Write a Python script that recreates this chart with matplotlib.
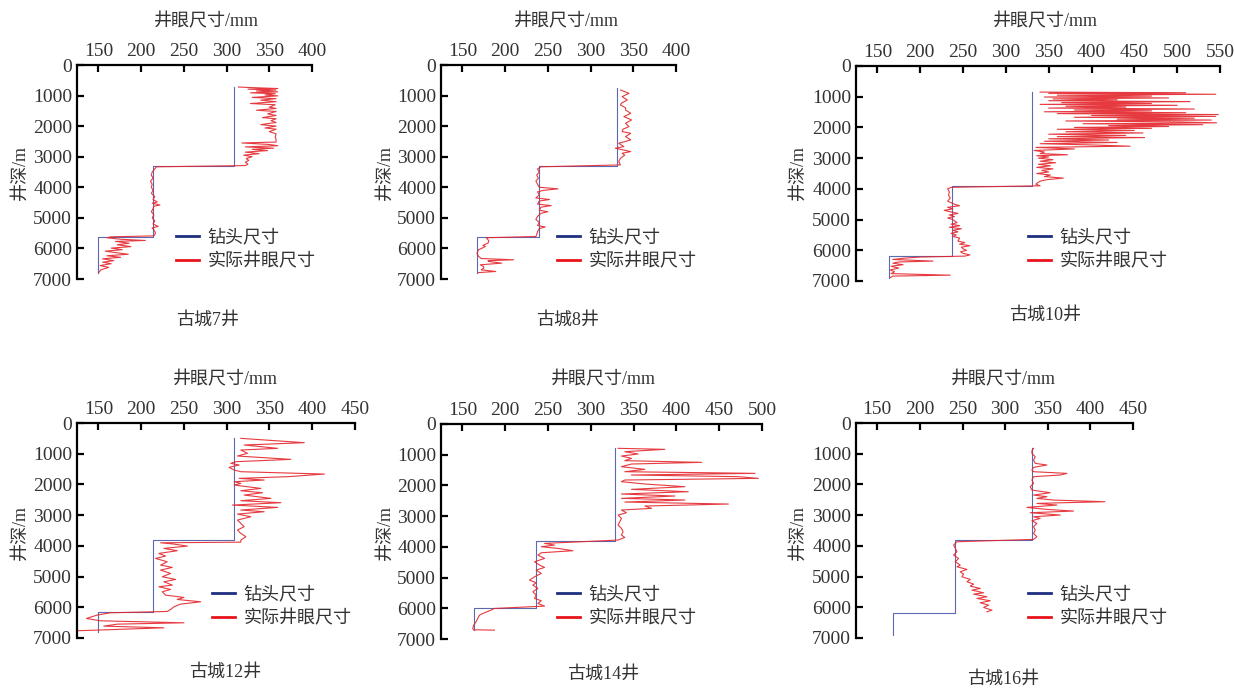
import matplotlib
matplotlib.use('Agg')
import numpy as np
import matplotlib.pyplot as plt
from matplotlib.lines import Line2D

plt.rcParams['font.family'] = ['Liberation Serif', 'Noto Sans CJK SC']

# ---- data: bit size steps and caliper logs ----
wells = ['古城7井', '古城8井', '古城10井', '古城12井', '古城14井', '古城16井']
x_max = [400, 400, 550, 450, 500, 450]

# bit size (mm) per section, and section boundary depths (m)
gc7_bit_size = [309, 214, 149.6]
gc7_bit_depth = [720, 3300, 5620, 6800]
gc8_bit_size = [331, 240, 167]
gc8_bit_depth = [750, 3300, 5630, 6800]
gc10_bit_size = [330, 237, 164]
gc10_bit_depth = [840, 3920, 6200, 6900]
gc12_bit_size = [308.7, 214, 149.6]
gc12_bit_depth = [500, 3820, 6140, 6790]
gc14_bit_size = [328.7, 236.2, 163.2]
gc14_bit_depth = [770, 3800, 5990, 6720]
gc16_bit_size = [331.4, 240.7, 168.4]
gc16_bit_depth = [810, 3812, 6190, 6890]

# caliper (depth m, hole size mm)
gc7_caliper = [
    (720, 314), (740, 330), (770, 360), (790, 325), (820, 358), (850, 335), (880, 360),
    (910, 328), (940, 357), (980, 345), (1010, 360), (1060, 330), (1100, 358), (1150, 340),
    (1200, 358), (1260, 328), (1300, 357), (1380, 350), (1420, 358), (1480, 335), (1520, 358),
    (1600, 348), (1650, 358), (1720, 342), (1760, 358), (1820, 352), (1880, 358), (1950, 340),
    (2000, 358), (2060, 345), (2100, 358), (2180, 350), (2250, 358), (2350, 357), (2450, 358),
    (2520, 358), (2550, 318), (2600, 350), (2640, 360), (2680, 322), (2720, 355), (2760, 330),
    (2800, 348), (2850, 322), (2900, 338), (2950, 320), (3000, 330), (3060, 323), (3120, 326),
    (3180, 322), (3240, 325), (3290, 322),
    (3330, 218), (3400, 216), (3500, 213), (3600, 212), (3700, 214), (3800, 211), (3900, 213),
    (4000, 212), (4100, 214), (4200, 212), (4300, 216), (4400, 214), (4480, 219), (4520, 213),
    (4580, 222), (4620, 215), (4700, 214), (4800, 212), (4900, 215), (5000, 213), (5100, 216),
    (5200, 214), (5280, 220), (5330, 213), (5400, 215), (5500, 217), (5590, 215),
    (5620, 165), (5650, 160), (5700, 176), (5740, 205), (5770, 170), (5830, 186), (5880, 172),
    (5940, 188), (5990, 165), (6040, 178), (6090, 158), (6140, 171), (6190, 185), (6240, 160),
    (6290, 176), (6340, 155), (6400, 168), (6450, 155), (6500, 165), (6560, 152), (6620, 162),
    (6700, 153), (6800, 150),
]
gc8_caliper = [
    (817, 335), (926, 345), (1035, 337), (1144, 343), (1250, 336), (1307, 335), (1400, 341),
    (1471, 341), (1580, 347), (1688, 339), (1797, 348), (1906, 341), (2015, 345), (2100, 338),
    (2179, 337), (2233, 347), (2342, 341), (2451, 347), (2560, 333), (2669, 339), (2723, 329),
    (2832, 347), (2887, 337), (2950, 340), (3050, 335), (3159, 333), (3268, 335),
    (3330, 242), (3400, 238), (3500, 240), (3600, 237), (3700, 239), (3800, 236), (3900, 238),
    (4000, 240), (4050, 262), (4100, 245), (4150, 238), (4250, 240), (4350, 236), (4400, 252),
    (4450, 240), (4550, 238), (4600, 254), (4650, 242), (4750, 240), (4800, 250), (4850, 242),
    (4950, 238), (5050, 236), (5150, 240), (5250, 238), (5300, 247), (5350, 240), (5450, 238),
    (5550, 237), (5610, 236),
    (5650, 178), (5750, 181), (5827, 180), (5900, 174), (5936, 177), (6045, 169), (6154, 167),
    (6263, 169), (6330, 172), (6372, 210), (6400, 180), (6427, 181), (6481, 196), (6536, 171),
    (6600, 175), (6645, 175), (6700, 172), (6754, 189), (6790, 169),
]
gc10_caliper = [
    (850, 340), (870, 510), (890, 350), (920, 545), (950, 360), (980, 470), (1010, 345),
    (1040, 490), (1070, 355), (1100, 430), (1130, 350), (1160, 515), (1190, 365), (1220, 470),
    (1250, 340), (1280, 500), (1310, 370), (1340, 440), (1370, 350), (1400, 520), (1430, 380),
    (1460, 470), (1490, 345), (1520, 510), (1550, 360), (1580, 548), (1610, 400), (1640, 545),
    (1670, 380), (1700, 520), (1730, 430), (1760, 540), (1790, 370), (1820, 500), (1850, 546),
    (1880, 390), (1910, 530), (1940, 420), (1970, 490), (2000, 380), (2030, 470), (2060, 360),
    (2100, 450), (2140, 370), (2180, 460), (2220, 350), (2260, 440), (2300, 360), (2330, 462),
    (2370, 350), (2410, 420), (2450, 345), (2490, 430), (2530, 340), (2570, 400), (2610, 445),
    (2650, 335), (2700, 380), (2750, 333), (2800, 345), (2850, 340), (2890, 372), (2920, 336),
    (2960, 350), (3000, 338), (3050, 355), (3100, 340), (3150, 358), (3200, 338), (3250, 352),
    (3300, 336), (3350, 355), (3400, 342), (3450, 350), (3500, 336), (3550, 352), (3600, 345),
    (3650, 367), (3700, 348), (3750, 340), (3800, 337), (3850, 335), (3900, 340),
    (3950, 236), (4000, 232), (4100, 234), (4200, 233), (4300, 235), (4400, 232), (4500, 240),
    (4550, 246), (4600, 232), (4650, 238), (4700, 228), (4800, 244), (4850, 234), (4900, 240),
    (4950, 232), (5000, 238), (5100, 243), (5150, 236), (5200, 246), (5250, 234), (5300, 248),
    (5350, 238), (5400, 244), (5450, 236), (5500, 242), (5550, 238), (5600, 246), (5700, 244),
    (5750, 252), (5800, 246), (5850, 258), (5900, 248), (5950, 250), (6000, 254), (6050, 247),
    (6100, 250), (6150, 258), (6190, 252),
    (6220, 200), (6260, 180), (6300, 168), (6352, 215), (6380, 175), (6420, 168), (6470, 180),
    (6520, 166), (6580, 175), (6640, 165), (6700, 170), (6760, 166), (6810, 235), (6840, 168),
    (6890, 165),
]
gc12_caliper = [
    (500, 316.5), (641, 390.7), (717, 320.4), (825, 359.5), (880, 316.5), (988, 324.3),
    (1075, 312.6), (1184, 375), (1260, 310.6), (1314, 304.8), (1368, 314.6), (1444, 302.8),
    (1531, 308.7), (1586, 316.5), (1662, 414.2), (1748, 371.2), (1803, 314.6), (1857, 343.8),
    (1911, 308.7), (1966, 316.5), (2020, 308.7), (2129, 339.9), (2205, 316.5), (2270, 341.9),
    (2346, 320.4), (2454, 351.7), (2530, 316.5), (2595, 363.4), (2672, 306.7), (2748, 359.5),
    (2834, 316.5), (2889, 343.8), (2965, 312.6), (3052, 328.2), (3160, 312.6), (3269, 316.5),
    (3377, 320.4), (3486, 312.6), (3595, 316.5), (3703, 322.4), (3812, 316.5), (3880, 316.5),
    (3900, 222.7), (3942, 238.3), (4007, 254), (4083, 226.6), (4159, 242.2), (4246, 220.7),
    (4333, 228.6), (4409, 216.8), (4518, 230.5), (4626, 222.7), (4702, 236.4), (4789, 222.7),
    (4898, 234.4), (5006, 224.7), (5093, 240.3), (5169, 226.6), (5278, 236.4), (5332, 220.7),
    (5419, 234.4), (5495, 224.7), (5604, 228.6), (5680, 250), (5745, 242.2), (5821, 269.6),
    (5897, 246.1), (5984, 238.3), (6071, 234.4), (6136, 230.5),
    (6179, 164), (6255, 148.4), (6364, 136), (6440, 152.4), (6505, 250), (6549, 171.9),
    (6614, 156.3), (6668, 226.6), (6740, 152), (6770, 118),
]
gc14_caliper = [
    (792, 331.9), (825, 386.5), (901, 339.7), (977, 355.3), (1042, 335.8), (1118, 347.5),
    (1194, 339.7), (1249, 429.4), (1303, 347.5), (1390, 335.8), (1477, 363.1), (1553, 339.7),
    (1607, 491.9), (1661, 347.5), (1715, 472.4), (1770, 495.8), (1824, 339.7), (1878, 335.8),
    (1954, 363.1), (2041, 409.9), (2128, 347.5), (2204, 413.8), (2280, 335.8), (2345, 398.2),
    (2421, 335.8), (2475, 409.9), (2541, 339.7), (2606, 460.7), (2671, 363.1), (2747, 370.9),
    (2801, 335.8), (2888, 341.6), (2964, 331.9), (3073, 335.8), (3182, 333.8), (3290, 331.9),
    (3399, 335.8), (3507, 337.7), (3616, 335.8), (3692, 339.7), (3779, 331.9),
    (3887, 246), (3942, 257.7), (3996, 242.1), (4050, 261.6), (4126, 279.2), (4192, 242.1),
    (4268, 238.2), (4376, 246), (4485, 234.3), (4593, 240.1), (4669, 246), (4756, 236.2),
    (4865, 242.1), (4973, 234.3), (5082, 228.4), (5169, 236.2), (5245, 232.3), (5354, 238.2),
    (5462, 232.3), (5571, 236.2), (5679, 234.3), (5755, 242.1), (5842, 238.2), (5929, 246),
    (6005, 187.4), (6060, 183.5), (6146, 175.7), (6223, 169.9), (6331, 167.9), (6440, 166),
    (6548, 163.2), (6657, 162.1), (6700, 163), (6711, 187.4),
]
gc16_caliper = [
    (825, 333.3), (900, 331.4), (988, 331.4), (1100, 335.3), (1205, 333.3), (1314, 335.3),
    (1368, 349), (1444, 333.3), (1531, 331.4), (1586, 333.3), (1640, 372.4), (1694, 364.6),
    (1748, 333.3), (1857, 331.4), (1966, 333.3), (2074, 329.4), (2183, 331.4), (2270, 352.9),
    (2346, 333.3), (2400, 349), (2454, 337.2), (2509, 356.8), (2563, 417), (2617, 337.2),
    (2672, 360.7), (2748, 325.5), (2813, 349), (2867, 380.2), (2921, 329.4), (2997, 364.6),
    (3052, 333.3), (3106, 341.1), (3182, 331.4), (3269, 337.2), (3377, 333.3), (3486, 335.3),
    (3595, 333.3), (3703, 337.2), (3790, 333.3),
    (3866, 243.4), (3975, 239.5), (4083, 241.5), (4192, 243.4), (4300, 239.5), (4409, 245.4),
    (4518, 241.5), (4626, 247.3), (4681, 243.4), (4767, 255.2), (4844, 247.3), (4920, 251.2),
    (5006, 249.3), (5093, 259), (5169, 255.2), (5245, 263), (5310, 259), (5387, 270.8),
    (5441, 261), (5528, 274.7), (5571, 263), (5658, 278.6), (5712, 266.9), (5788, 282.5),
    (5853, 270.8), (5929, 280.6), (6006, 274.7), (6092, 284.5), (6147, 278.6),
]

bit_sizes = [gc7_bit_size, gc8_bit_size, gc10_bit_size, gc12_bit_size, gc14_bit_size, gc16_bit_size]
bit_depths = [gc7_bit_depth, gc8_bit_depth, gc10_bit_depth, gc12_bit_depth, gc14_bit_depth, gc16_bit_depth]
calipers = [gc7_caliper, gc8_caliper, gc10_caliper, gc12_caliper, gc14_caliper, gc16_caliper]

# ---- layout (pixels in a 1235x688 canvas) ----
W, H = 1235, 688
# left, right, top, bottom of each plot frame
frames = [(77, 312, 65, 279), (441, 676, 65, 279), (856, 1220, 66, 281),
          (77, 355, 423, 638), (441, 762, 424, 639), (856, 1133, 423, 638)]
xlabel_pos = [(206, 22), (566, 22), (1045, 22), (225, 380), (603, 380), (1003, 380)]
ylabel_pos = [(20, 172), (385, 172), (798, 172), (20, 532), (385, 532), (798, 532)]
title_pos = [(207, 320), (567, 320), (1045, 315), (225, 672), (603, 674), (1003, 679)]
legend_pos = [(176, 250), (557, 250), (1028, 250), (212, 607), (557, 607), (1028, 607)]

BLUE = '#33449c'
RED = '#e3252b'
TXT = '#333333'

fig = plt.figure(figsize=(W / 100, H / 100), dpi=100)

for i in range(6):
    l, r, t, b = frames[i]
    ax = fig.add_axes([l / W, 1 - b / H, (r - l) / W, (b - t) / H])

    # bit size as a step profile
    sizes = bit_sizes[i]
    depths = bit_depths[i]
    bx, by = [], []
    for k, s in enumerate(sizes):
        bx += [s, s]
        by += [depths[k], depths[k + 1]]
    ax.plot(bx, by, color=BLUE, lw=0.8, alpha=0.8)

    cal = np.array(calipers[i])
    ax.plot(cal[:, 1], cal[:, 0], color=RED, lw=0.8, alpha=0.9)

    ax.set_xlim(125, x_max[i])
    ax.set_ylim(7000, 0)
    ax.set_xticks(np.arange(150, x_max[i] + 1, 50))
    ax.set_yticks(np.arange(0, 7001, 1000))
    ax.xaxis.tick_top()
    for side in ['right', 'bottom']:
        ax.spines[side].set_visible(False)
    for side in ['left', 'top']:
        ax.spines[side].set_linewidth(1.6)
    ax.tick_params(axis='both', direction='in', length=5, width=1.6,
                   labelsize=14, labelcolor=TXT, pad=3.5)
    ax.tick_params(axis='x', top=True, bottom=False)
    ax.patch.set_alpha(0)

    handles = [Line2D([], [], color='#1f2f80', lw=2),
               Line2D([], [], color='#e8141c', lw=2)]
    lx, ly = legend_pos[i]
    ax.legend(handles, ['钻头尺寸', '实际井眼尺寸'], loc='center left',
              bbox_to_anchor=(lx / W, 1 - ly / H), bbox_transform=fig.transFigure,
              frameon=False, fontsize=13, handlelength=1.25, handletextpad=0.5,
              borderpad=0, borderaxespad=0, labelspacing=0.38, labelcolor=TXT)

    x, y = xlabel_pos[i]
    fig.text(x / W, 1 - y / H, '井眼尺寸/mm', ha='center', va='center', fontsize=13, color=TXT)
    x, y = ylabel_pos[i]
    fig.text(x / W, 1 - y / H, '井深/m', ha='center', va='center', fontsize=13,
             color=TXT, rotation=90)
    x, y = title_pos[i]
    fig.text(x / W, 1 - y / H, wells[i], ha='center', va='center', fontsize=13, color=TXT)

fig.savefig('out.png', dpi=100)
